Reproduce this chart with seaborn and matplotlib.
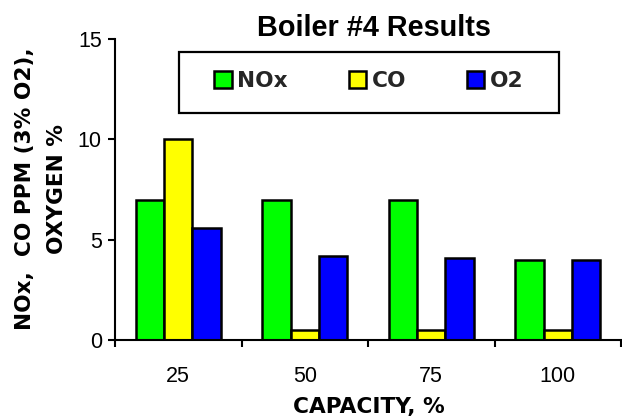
import matplotlib
matplotlib.use("Agg")
import matplotlib.pyplot as plt
from matplotlib.patches import Rectangle
import pandas as pd
import seaborn as sns

# Boiler #4 emissions by load
capacity = ["25", "50", "75", "100"]
nox = [7, 7, 7, 4]
co = [10, 0.5, 0.5, 0.5]
o2 = [5.6, 4.2, 4.1, 4.0]
series = ["NOx", "CO", "O2"]
colors = ["#00FF00", "#FFFF00", "#0000FF"]

df = pd.DataFrame({
    "capacity": capacity * 3,
    "value": nox + co + o2,
    "series": [s for s in series for _ in capacity],
})

sns.set_theme(style="white")
plt.rcParams["font.family"] = ["Liberation Sans", "DejaVu Sans"]

W, H = 622, 419
fig = plt.figure(figsize=(W / 100, H / 100), dpi=100)
ax = fig.add_axes([115 / W, 1 - 340 / H, 506 / W, 301 / H])

sns.barplot(data=df, x="capacity", y="value", hue="series", order=capacity,
            hue_order=series, palette=colors, width=0.672, gap=0,
            edgecolor="black", linewidth=1.8, saturation=1, ax=ax, legend=False)

ax.set_xlim(-0.5, len(capacity) - 0.5)
ax.set_ylim(0, 15)
ax.set_yticks([0, 5, 10, 15])
ax.set_xlabel("")
ax.set_ylabel("")

for side in ["top", "right"]:
    ax.spines[side].set_visible(False)
for side in ["left", "bottom"]:
    ax.spines[side].set_linewidth(1.5)
    ax.spines[side].set_color("black")

ax.tick_params(axis="y", which="major", direction="out", length=5, width=1.5,
               color="black", pad=4.5, labelsize=15.5, labelcolor="black", left=True)
ax.tick_params(axis="x", which="major", length=0, pad=19, labelsize=15.5,
               labelcolor="black")
ax.set_xticks([i - 0.5 for i in range(len(capacity) + 1)], minor=True)
ax.tick_params(axis="x", which="minor", direction="out", length=5, width=1.5,
               color="black", bottom=True)

bold = dict(family="DejaVu Sans", weight="bold", color="black")

fig.text(374 / W, 1 - 36 / H, "Boiler #4 Results", ha="center", va="baseline",
         fontsize=20.8, weight="bold", family="Liberation Sans", color="black")
fig.text(369 / W, 1 - 413 / H, "CAPACITY, %", ha="center", va="baseline",
         fontsize=15.6, **bold)
fig.text(31 / W, 1 - 189 / H, "NOx,  CO PPM (3% O2),", rotation=90,
         rotation_mode="anchor", ha="center", va="baseline", fontsize=15.6, **bold)
fig.text(63 / W, 1 - 189 / H, "OXYGEN %", rotation=90,
         rotation_mode="anchor", ha="center", va="baseline", fontsize=15.6, **bold)

# legend box
fig.patches.append(Rectangle((179 / W, 1 - 113 / H), 380 / W, 61 / H,
                             transform=fig.transFigure, facecolor="white",
                             edgecolor="black", linewidth=1.6, zorder=5))
leg = fig.legend(handles=ax.containers, labels=series, ncol=3,
                 loc="center", bbox_to_anchor=(369 / W, 1 - 81 / H),
                 frameon=False, prop=dict(family="DejaVu Sans", weight="bold", size=15.6),
                 handlelength=0.8, handleheight=0.8, handletextpad=0.27,
                 columnspacing=2.8, borderpad=0)
leg.set_zorder(6)

fig.savefig("out.png", dpi=100)
